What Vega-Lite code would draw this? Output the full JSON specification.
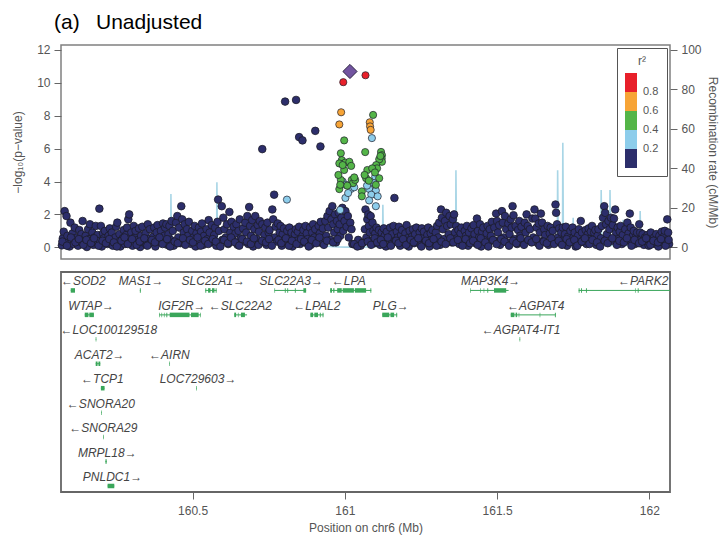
{
  "$schema": "https://vega.github.io/schema/vega-lite/v6.json",
  "padding": {"left": 10, "top": 12, "right": 4, "bottom": 6},
  "title": {"text": "(a)\u2002 Unadjusted", "anchor": "start", "frame": "group", "fontSize": 21, "fontWeight": "normal", "font": "Liberation Sans", "color": "#000000", "offset": 10, "dx": -7},
  "config": {
    "font": "Liberation Sans",
    "view": {"stroke": "#808080", "strokeWidth": 1.5},
    "axis": {"labelFont": "Liberation Sans", "labelFontSize": 12, "labelColor": "#555555", "tickColor": "#666666", "tickSize": 7, "domain": false, "grid": false, "labelOverlap": false, "titleFont": "Liberation Sans", "titleFontSize": 12, "titleColor": "#555555", "titleFontWeight": "normal", "labelPadding": 4}
  },
  "datasets": {
    "snps": [
      {"pos":160.071,"logp":0.12},{"pos":160.074,"logp":0.55},{"pos":160.077,"logp":0.95},{"pos":160.080,"logp":2.2},{"pos":160.083,"logp":0.3},{"pos":160.086,"logp":1.9},{"pos":160.089,"logp":0.7},
      {"pos":160.096,"logp":0.05},{"pos":160.099,"logp":1.5},{"pos":160.102,"logp":0.45},{"pos":160.106,"logp":0.85},{"pos":160.110,"logp":0.2},{"pos":160.113,"logp":1.2},
      {"pos":160.121,"logp":0.6},{"pos":160.124,"logp":0.1},{"pos":160.128,"logp":1.05},{"pos":160.131,"logp":0.35},{"pos":160.135,"logp":0.8},{"pos":160.139,"logp":1.6},
      {"pos":160.146,"logp":0.25},{"pos":160.149,"logp":0.7},{"pos":160.153,"logp":0.02},{"pos":160.157,"logp":1.1},{"pos":160.160,"logp":0.5},{"pos":160.163,"logp":1.4},
      {"pos":160.171,"logp":0.9},{"pos":160.174,"logp":0.15},{"pos":160.178,"logp":0.6},{"pos":160.182,"logp":1.3},{"pos":160.185,"logp":0.3},{"pos":160.188,"logp":0.75},
      {"pos":160.194,"logp":2.35},{"pos":160.196,"logp":0.4},{"pos":160.199,"logp":1.3},{"pos":160.202,"logp":0.05},{"pos":160.206,"logp":0.85},{"pos":160.209,"logp":0.55},{"pos":160.212,"logp":1.0},
      {"pos":160.221,"logp":0.2},{"pos":160.224,"logp":0.7},{"pos":160.228,"logp":1.15},{"pos":160.231,"logp":0.4},{"pos":160.235,"logp":0.9},{"pos":160.238,"logp":0.1},
      {"pos":160.246,"logp":0.6},{"pos":160.249,"logp":1.25},{"pos":160.253,"logp":1.5},{"pos":160.256,"logp":0.3},{"pos":160.260,"logp":0.8},{"pos":160.263,"logp":0.05},
      {"pos":160.271,"logp":0.55},{"pos":160.274,"logp":1.05},{"pos":160.278,"logp":0.2},{"pos":160.282,"logp":0.75},{"pos":160.285,"logp":1.2},{"pos":160.289,"logp":1.7},{"pos":160.292,"logp":2.0},
      {"pos":160.296,"logp":0.35},{"pos":160.299,"logp":0.9},{"pos":160.303,"logp":0.1},{"pos":160.307,"logp":1.3},{"pos":160.310,"logp":0.6},{"pos":160.313,"logp":1.0},
      {"pos":160.321,"logp":0.45},{"pos":160.324,"logp":1.15},{"pos":160.328,"logp":0.02},{"pos":160.331,"logp":0.7},{"pos":160.335,"logp":1.25},{"pos":160.338,"logp":0.3},
      {"pos":160.346,"logp":0.85},{"pos":160.349,"logp":0.15},{"pos":160.353,"logp":1.4},{"pos":160.356,"logp":0.5},{"pos":160.360,"logp":1.1},{"pos":160.363,"logp":0.25},
      {"pos":160.371,"logp":0.65},{"pos":160.374,"logp":1.2},{"pos":160.378,"logp":0.05},{"pos":160.382,"logp":0.9},{"pos":160.385,"logp":1.35},{"pos":160.388,"logp":0.4},
      {"pos":160.396,"logp":1.0},{"pos":160.399,"logp":0.3},{"pos":160.403,"logp":1.45},{"pos":160.407,"logp":0.7},{"pos":160.410,"logp":1.2},{"pos":160.414,"logp":1.4},{"pos":160.417,"logp":0.15},
      {"pos":160.421,"logp":0.8},{"pos":160.424,"logp":1.3},{"pos":160.428,"logp":0.45},{"pos":160.431,"logp":1.6},{"pos":160.435,"logp":1.0},{"pos":160.438,"logp":0.1},
      {"pos":160.446,"logp":1.5},{"pos":160.450,"logp":1.9},{"pos":160.453,"logp":0.6},{"pos":160.456,"logp":1.2},{"pos":160.460,"logp":0.25},{"pos":160.463,"logp":2.5},{"pos":160.466,"logp":1.7},
      {"pos":160.471,"logp":0.9},{"pos":160.474,"logp":1.4},{"pos":160.478,"logp":0.35},{"pos":160.482,"logp":1.1},{"pos":160.485,"logp":0.7},{"pos":160.488,"logp":1.55},
      {"pos":160.496,"logp":0.2},{"pos":160.499,"logp":1.0},{"pos":160.503,"logp":0.6},{"pos":160.507,"logp":1.3},{"pos":160.510,"logp":0.05},{"pos":160.513,"logp":0.85},
      {"pos":160.521,"logp":1.2},{"pos":160.524,"logp":0.4},{"pos":160.528,"logp":0.95},{"pos":160.531,"logp":1.45},{"pos":160.535,"logp":0.15},{"pos":160.538,"logp":0.7},
      {"pos":160.546,"logp":1.1},{"pos":160.549,"logp":0.5},{"pos":160.553,"logp":1.65},{"pos":160.556,"logp":0.9},{"pos":160.560,"logp":0.3},{"pos":160.563,"logp":1.35},
      {"pos":160.571,"logp":0.75},{"pos":160.574,"logp":1.2},{"pos":160.578,"logp":0.1},{"pos":160.582,"logp":1.55},{"pos":160.584,"logp":2.9},{"pos":160.587,"logp":1.0},
      {"pos":160.596,"logp":2.5},{"pos":160.598,"logp":0.45},{"pos":160.601,"logp":1.8},{"pos":160.605,"logp":1.1},{"pos":160.609,"logp":0.6},{"pos":160.613,"logp":1.4},
      {"pos":160.617,"logp":0.2},{"pos":160.621,"logp":2.15},{"pos":160.624,"logp":0.9},{"pos":160.628,"logp":1.55},{"pos":160.631,"logp":0.5},{"pos":160.635,"logp":1.25},
      {"pos":160.641,"logp":0.85},{"pos":160.644,"logp":1.4},{"pos":160.648,"logp":0.15},{"pos":160.651,"logp":1.0},{"pos":160.655,"logp":1.7},{"pos":160.658,"logp":0.55},
      {"pos":160.666,"logp":1.15},{"pos":160.669,"logp":0.35},{"pos":160.673,"logp":1.5},{"pos":160.676,"logp":0.9},{"pos":160.680,"logp":1.9},{"pos":160.683,"logp":0.2},
      {"pos":160.686,"logp":2.45},{"pos":160.689,"logp":1.3},{"pos":160.692,"logp":0.7},{"pos":160.696,"logp":1.65},{"pos":160.699,"logp":0.05},{"pos":160.703,"logp":1.1},{"pos":160.706,"logp":1.9},
      {"pos":160.711,"logp":0.5},{"pos":160.714,"logp":1.35},{"pos":160.718,"logp":0.95},{"pos":160.721,"logp":1.6},{"pos":160.725,"logp":0.3},{"pos":160.729,"logp":1.4},{"pos":160.729,"logp":5.97},
      {"pos":160.736,"logp":0.75},{"pos":160.739,"logp":1.2},{"pos":160.743,"logp":0.15},{"pos":160.746,"logp":1.5},{"pos":160.750,"logp":0.9},{"pos":160.753,"logp":1.05},
      {"pos":160.762,"logp":2.3},{"pos":160.765,"logp":1.7},{"pos":160.768,"logp":3.2},{"pos":160.770,"logp":0.6},{"pos":160.773,"logp":1.25},{"pos":160.777,"logp":0.35},{"pos":160.780,"logp":1.45},
      {"pos":160.786,"logp":0.9},{"pos":160.789,"logp":1.3},{"pos":160.793,"logp":0.1},{"pos":160.796,"logp":0.8},{"pos":160.800,"logp":1.15},{"pos":160.803,"logp":0.45},
      {"pos":160.804,"logp":8.86},{"pos":160.840,"logp":8.96},{"pos":160.850,"logp":6.7},{"pos":160.861,"logp":6.5},{"pos":160.903,"logp":7.08},{"pos":160.920,"logp":6.13},
      {"pos":160.811,"logp":1.0},{"pos":160.814,"logp":0.3},{"pos":160.818,"logp":1.2},{"pos":160.821,"logp":0.65},{"pos":160.825,"logp":0.9},{"pos":160.828,"logp":0.05},
      {"pos":160.836,"logp":0.8},{"pos":160.839,"logp":1.1},{"pos":160.843,"logp":0.4},{"pos":160.846,"logp":0.95},{"pos":160.850,"logp":1.25},{"pos":160.853,"logp":0.2},
      {"pos":160.861,"logp":0.7},{"pos":160.864,"logp":1.05},{"pos":160.868,"logp":0.3},{"pos":160.871,"logp":1.3},{"pos":160.875,"logp":0.85},{"pos":160.878,"logp":0.5},
      {"pos":160.886,"logp":1.2},{"pos":160.889,"logp":0.15},{"pos":160.893,"logp":0.9},{"pos":160.896,"logp":1.4},{"pos":160.900,"logp":0.6},{"pos":160.903,"logp":1.1},
      {"pos":160.911,"logp":0.4},{"pos":160.914,"logp":1.3},{"pos":160.918,"logp":0.85},{"pos":160.921,"logp":1.55},{"pos":160.925,"logp":0.25},{"pos":160.928,"logp":1.15},
      {"pos":160.936,"logp":1.6},{"pos":160.939,"logp":0.7},{"pos":160.943,"logp":1.9},{"pos":160.946,"logp":1.2},{"pos":160.950,"logp":2.2},{"pos":160.953,"logp":0.45},{"pos":160.956,"logp":1.7},
      {"pos":160.959,"logp":2.5},{"pos":160.962,"logp":1.4},{"pos":160.965,"logp":0.9},{"pos":160.968,"logp":2.0},{"pos":160.971,"logp":0.3},{"pos":160.974,"logp":1.6},{"pos":160.977,"logp":1.1},
      {"pos":160.980,"logp":2.1},{"pos":160.983,"logp":1.4},{"pos":160.985,"logp":0.7},{"pos":160.989,"logp":1.8},{"pos":160.992,"logp":2.4},{"pos":160.995,"logp":1.0},{"pos":160.999,"logp":1.6},
      {"pos":161.002,"logp":2.2},{"pos":161.006,"logp":1.25},{"pos":161.010,"logp":1.9},{"pos":161.013,"logp":0.6},{"pos":161.018,"logp":1.5},{"pos":161.022,"logp":1.1},{"pos":161.025,"logp":0.2},
      {"pos":161.035,"logp":0.15},{"pos":161.044,"logp":0.45},{"pos":161.052,"logp":0.1},{"pos":161.060,"logp":0.3},
      {"pos":161.066,"logp":1.1},{"pos":161.068,"logp":2.3},{"pos":161.071,"logp":0.6},{"pos":161.074,"logp":1.7},{"pos":161.077,"logp":2.0},{"pos":161.079,"logp":1.3},{"pos":161.082,"logp":0.9},
      {"pos":161.085,"logp":1.9},{"pos":161.088,"logp":0.4},{"pos":161.091,"logp":1.5},{"pos":161.094,"logp":1.0},
      {"pos":161.097,"logp":0.25},{"pos":161.100,"logp":0.85},{"pos":161.104,"logp":1.2},{"pos":161.108,"logp":0.5},{"pos":161.112,"logp":1.05},{"pos":161.116,"logp":0.15},
      {"pos":161.121,"logp":0.9},{"pos":161.124,"logp":0.4},{"pos":161.128,"logp":1.15},{"pos":161.131,"logp":0.7},{"pos":161.135,"logp":0.05},{"pos":161.138,"logp":0.95},
      {"pos":161.146,"logp":0.5},{"pos":161.149,"logp":1.2},{"pos":161.153,"logp":0.2},{"pos":161.156,"logp":0.8},{"pos":161.160,"logp":1.3},{"pos":161.163,"logp":3.0},{"pos":161.166,"logp":0.35},
      {"pos":161.171,"logp":0.95},{"pos":161.174,"logp":0.6},{"pos":161.178,"logp":1.25},{"pos":161.182,"logp":0.1},{"pos":161.185,"logp":0.75},{"pos":161.188,"logp":1.05},
      {"pos":161.196,"logp":0.3},{"pos":161.199,"logp":0.85},{"pos":161.203,"logp":1.35},{"pos":161.206,"logp":0.55},{"pos":161.210,"logp":0.05},{"pos":161.213,"logp":1.0},
      {"pos":161.221,"logp":0.65},{"pos":161.224,"logp":1.1},{"pos":161.228,"logp":0.25},{"pos":161.231,"logp":0.8},{"pos":161.235,"logp":1.2},{"pos":161.238,"logp":0.4},
      {"pos":161.246,"logp":0.9},{"pos":161.249,"logp":0.15},{"pos":161.253,"logp":1.15},{"pos":161.256,"logp":0.6},{"pos":161.260,"logp":0.95},{"pos":161.263,"logp":0.3},
      {"pos":161.271,"logp":0.75},{"pos":161.274,"logp":1.2},{"pos":161.278,"logp":0.05},{"pos":161.282,"logp":0.85},{"pos":161.285,"logp":0.45},{"pos":161.288,"logp":1.05},
      {"pos":161.296,"logp":0.35},{"pos":161.299,"logp":0.9},{"pos":161.303,"logp":1.3},{"pos":161.307,"logp":0.6},{"pos":161.310,"logp":1.5},{"pos":161.313,"logp":0.15},
      {"pos":161.316,"logp":2.3},{"pos":161.319,"logp":1.8},{"pos":161.322,"logp":1.1},{"pos":161.326,"logp":0.5},{"pos":161.329,"logp":1.6},{"pos":161.333,"logp":2.1},{"pos":161.336,"logp":1.3},
      {"pos":161.341,"logp":0.8},{"pos":161.344,"logp":1.9},{"pos":161.348,"logp":1.4},{"pos":161.351,"logp":0.3},{"pos":161.355,"logp":1.7},{"pos":161.359,"logp":2.0},{"pos":161.362,"logp":0.9},
      {"pos":161.366,"logp":1.3},{"pos":161.369,"logp":0.55},{"pos":161.373,"logp":1.05},{"pos":161.376,"logp":0.2},{"pos":161.380,"logp":0.85},{"pos":161.383,"logp":1.2},
      {"pos":161.391,"logp":0.4},{"pos":161.394,"logp":1.0},{"pos":161.398,"logp":0.7},{"pos":161.401,"logp":1.3},{"pos":161.405,"logp":0.1},{"pos":161.408,"logp":0.9},
      {"pos":161.416,"logp":1.15},{"pos":161.419,"logp":0.5},{"pos":161.423,"logp":1.35},{"pos":161.426,"logp":0.8},{"pos":161.430,"logp":0.25},{"pos":161.434,"logp":1.75},{"pos":161.437,"logp":1.0},
      {"pos":161.441,"logp":0.6},{"pos":161.444,"logp":1.4},{"pos":161.448,"logp":0.05},{"pos":161.451,"logp":0.95},{"pos":161.455,"logp":1.2},{"pos":161.458,"logp":0.45},
      {"pos":161.466,"logp":0.85},{"pos":161.469,"logp":1.3},{"pos":161.473,"logp":0.3},{"pos":161.476,"logp":1.1},{"pos":161.480,"logp":0.7},{"pos":161.483,"logp":1.55},
      {"pos":161.491,"logp":1.2},{"pos":161.494,"logp":0.4},{"pos":161.497,"logp":2.05},{"pos":161.500,"logp":1.6},{"pos":161.503,"logp":0.9},{"pos":161.507,"logp":1.35},{"pos":161.510,"logp":0.15},
      {"pos":161.516,"logp":2.2},{"pos":161.519,"logp":1.5},{"pos":161.522,"logp":0.6},{"pos":161.526,"logp":1.9},{"pos":161.530,"logp":1.1},{"pos":161.533,"logp":0.3},{"pos":161.537,"logp":1.45},
      {"pos":161.541,"logp":0.8},{"pos":161.545,"logp":1.7},{"pos":161.548,"logp":1.2},{"pos":161.551,"logp":2.5},{"pos":161.554,"logp":1.95},{"pos":161.558,"logp":0.5},{"pos":161.561,"logp":1.3},
      {"pos":161.566,"logp":0.2},{"pos":161.569,"logp":1.05},{"pos":161.573,"logp":1.6},{"pos":161.576,"logp":0.7},{"pos":161.580,"logp":1.25},{"pos":161.583,"logp":0.35},
      {"pos":161.591,"logp":1.5},{"pos":161.594,"logp":0.9},{"pos":161.597,"logp":2.0},{"pos":161.601,"logp":1.3},{"pos":161.605,"logp":0.45},{"pos":161.608,"logp":1.1},
      {"pos":161.616,"logp":1.75},{"pos":161.619,"logp":0.6},{"pos":161.623,"logp":2.3},{"pos":161.626,"logp":1.75},{"pos":161.630,"logp":1.2},{"pos":161.634,"logp":0.25},{"pos":161.637,"logp":1.45},
      {"pos":161.641,"logp":0.9},{"pos":161.644,"logp":2.05},{"pos":161.648,"logp":1.5},{"pos":161.651,"logp":0.4},{"pos":161.655,"logp":1.1},{"pos":161.658,"logp":0.75},
      {"pos":161.666,"logp":1.3},{"pos":161.669,"logp":0.15},{"pos":161.673,"logp":0.85},{"pos":161.676,"logp":1.2},{"pos":161.680,"logp":0.5},{"pos":161.683,"logp":1.0},
      {"pos":161.692,"logp":2.6},{"pos":161.694,"logp":2.1},{"pos":161.697,"logp":1.4},{"pos":161.700,"logp":0.6},{"pos":161.704,"logp":1.15},{"pos":161.707,"logp":0.3},{"pos":161.711,"logp":0.9},
      {"pos":161.716,"logp":1.2},{"pos":161.719,"logp":0.45},{"pos":161.723,"logp":0.8},{"pos":161.726,"logp":1.25},{"pos":161.730,"logp":0.1},{"pos":161.733,"logp":0.65},
      {"pos":161.741,"logp":1.0},{"pos":161.744,"logp":0.35},{"pos":161.748,"logp":1.2},{"pos":161.751,"logp":0.6},{"pos":161.755,"logp":0.9},{"pos":161.758,"logp":0.05},
      {"pos":161.766,"logp":0.7},{"pos":161.769,"logp":1.1},{"pos":161.773,"logp":0.3},{"pos":161.775,"logp":1.6},{"pos":161.779,"logp":0.9},{"pos":161.783,"logp":0.45},
      {"pos":161.791,"logp":1.05},{"pos":161.794,"logp":0.2},{"pos":161.798,"logp":0.8},{"pos":161.801,"logp":1.15},{"pos":161.805,"logp":0.5},{"pos":161.808,"logp":0.95},
      {"pos":161.812,"logp":1.3},{"pos":161.816,"logp":0.35},{"pos":161.819,"logp":0.9},{"pos":161.823,"logp":1.05},{"pos":161.826,"logp":0.15},{"pos":161.830,"logp":0.7},{"pos":161.833,"logp":1.1},
      {"pos":161.841,"logp":0.55},{"pos":161.844,"logp":1.3},{"pos":161.848,"logp":1.8},{"pos":161.852,"logp":2.5},{"pos":161.855,"logp":2.1},{"pos":161.858,"logp":1.4},{"pos":161.861,"logp":0.8},
      {"pos":161.866,"logp":1.6},{"pos":161.869,"logp":1.1},{"pos":161.874,"logp":1.8},{"pos":161.877,"logp":0.4},{"pos":161.880,"logp":1.35},{"pos":161.884,"logp":1.75},{"pos":161.888,"logp":2.3},{"pos":161.891,"logp":0.9},
      {"pos":161.896,"logp":1.2},{"pos":161.899,"logp":0.5},{"pos":161.903,"logp":0.95},{"pos":161.906,"logp":1.3},{"pos":161.910,"logp":0.2},{"pos":161.913,"logp":0.75},
      {"pos":161.921,"logp":1.1},{"pos":161.924,"logp":0.4},{"pos":161.928,"logp":1.5},{"pos":161.932,"logp":0.85},{"pos":161.936,"logp":2.05},{"pos":161.939,"logp":1.2},{"pos":161.942,"logp":0.3},
      {"pos":161.946,"logp":0.7},{"pos":161.949,"logp":1.0},{"pos":161.953,"logp":0.2},{"pos":161.956,"logp":0.6},{"pos":161.960,"logp":0.9},{"pos":161.963,"logp":0.35},
      {"pos":161.967,"logp":1.4},{"pos":161.970,"logp":0.9},{"pos":161.974,"logp":0.5},{"pos":161.978,"logp":0.8},{"pos":161.982,"logp":0.15},{"pos":161.986,"logp":0.6},
      {"pos":161.991,"logp":0.35},{"pos":161.994,"logp":0.75},{"pos":161.998,"logp":0.1},{"pos":162.001,"logp":0.55},{"pos":162.005,"logp":0.9},{"pos":162.008,"logp":0.3},
      {"pos":162.016,"logp":0.6},{"pos":162.019,"logp":0.2},{"pos":162.023,"logp":0.8},{"pos":162.026,"logp":0.45},{"pos":162.030,"logp":0.05},{"pos":162.033,"logp":0.7},
      {"pos":162.041,"logp":0.95},{"pos":162.044,"logp":0.3},{"pos":162.048,"logp":0.65},{"pos":162.051,"logp":1.0},{"pos":162.055,"logp":0.4},{"pos":162.059,"logp":1.7},{"pos":162.062,"logp":0.9},{"pos":162.065,"logp":0.2},
      {"pos":160.0725,"logp":0.35},{"pos":160.0875,"logp":0.1},{"pos":160.1005,"logp":0.6},{"pos":160.1155,"logp":0.3},{"pos":160.1265,"logp":0.5},{"pos":160.1415,"logp":0.15},
      {"pos":160.1515,"logp":0.45},{"pos":160.1665,"logp":0.25},{"pos":160.1765,"logp":0.55},{"pos":160.1915,"logp":0.1},{"pos":160.2045,"logp":0.4},{"pos":160.2155,"logp":0.25},
      {"pos":160.2265,"logp":0.5},{"pos":160.2415,"logp":0.3},{"pos":160.2515,"logp":0.05},{"pos":160.2665,"logp":0.4},{"pos":160.2765,"logp":0.6},{"pos":160.2875,"logp":0.2},
      {"pos":160.3015,"logp":0.5},{"pos":160.3165,"logp":0.15},{"pos":160.3265,"logp":0.35},{"pos":160.3415,"logp":0.55},{"pos":160.3515,"logp":0.1},{"pos":160.3665,"logp":0.45},
      {"pos":160.3765,"logp":0.3},{"pos":160.3915,"logp":0.6},{"pos":160.4015,"logp":0.2},{"pos":160.4165,"logp":0.5},{"pos":160.4265,"logp":0.05},{"pos":160.4415,"logp":0.35},
      {"pos":160.4515,"logp":0.25},{"pos":160.4685,"logp":0.55},{"pos":160.4765,"logp":0.15},{"pos":160.4915,"logp":0.45},{"pos":160.5015,"logp":0.3},{"pos":160.5165,"logp":0.6},
      {"pos":160.5265,"logp":0.1},{"pos":160.5415,"logp":0.4},{"pos":160.5515,"logp":0.2},{"pos":160.5665,"logp":0.5},{"pos":160.5765,"logp":0.35},{"pos":160.5915,"logp":0.05},
      {"pos":160.6035,"logp":0.45},{"pos":160.6165,"logp":0.25},{"pos":160.6265,"logp":0.6},{"pos":160.6395,"logp":0.3},{"pos":160.6535,"logp":0.1},{"pos":160.6635,"logp":0.5},
      {"pos":160.6785,"logp":0.35},{"pos":160.6915,"logp":0.2},{"pos":160.7015,"logp":0.55},{"pos":160.7165,"logp":0.15},{"pos":160.7285,"logp":0.4},{"pos":160.7415,"logp":0.3},
      {"pos":160.7515,"logp":0.5},{"pos":160.7605,"logp":0.1},{"pos":160.7825,"logp":0.45},{"pos":160.7915,"logp":0.25},{"pos":160.8065,"logp":0.55},{"pos":160.8165,"logp":0.1},
      {"pos":160.8265,"logp":0.4},{"pos":160.8415,"logp":0.2},{"pos":160.8565,"logp":0.5},{"pos":160.8665,"logp":0.35},{"pos":160.8815,"logp":0.05},{"pos":160.8915,"logp":0.45},
      {"pos":160.9065,"logp":0.25},{"pos":160.9165,"logp":0.6},{"pos":160.9315,"logp":0.15},{"pos":160.9415,"logp":0.4},{"pos":160.9615,"logp":0.3},{"pos":160.9765,"logp":0.5},
      {"pos":161.0305,"logp":0.2},{"pos":161.0415,"logp":0.05},{"pos":161.0565,"logp":0.25},{"pos":161.0755,"logp":0.35},{"pos":161.0865,"logp":0.15},{"pos":161.0985,"logp":0.55},
      {"pos":161.1065,"logp":0.3},{"pos":161.1185,"logp":0.45},{"pos":161.1265,"logp":0.2},{"pos":161.1415,"logp":0.6},{"pos":161.1515,"logp":0.1},{"pos":161.1685,"logp":0.4},
      {"pos":161.1765,"logp":0.25},{"pos":161.1915,"logp":0.5},{"pos":161.2015,"logp":0.15},{"pos":161.2165,"logp":0.45},{"pos":161.2265,"logp":0.3},{"pos":161.2415,"logp":0.55},
      {"pos":161.2515,"logp":0.05},{"pos":161.2665,"logp":0.4},{"pos":161.2765,"logp":0.25},{"pos":161.2915,"logp":0.5},{"pos":161.3015,"logp":0.1},{"pos":161.3175,"logp":0.35},
      {"pos":161.3315,"logp":0.2},{"pos":161.3465,"logp":0.55},{"pos":161.3565,"logp":0.3},{"pos":161.3715,"logp":0.45},{"pos":161.3865,"logp":0.1},{"pos":161.3965,"logp":0.5},
      {"pos":161.4115,"logp":0.25},{"pos":161.4215,"logp":0.4},{"pos":161.4365,"logp":0.15},{"pos":161.4465,"logp":0.55},{"pos":161.4615,"logp":0.3},{"pos":161.4715,"logp":0.05},
      {"pos":161.4865,"logp":0.45},{"pos":161.4985,"logp":0.2},{"pos":161.5135,"logp":0.5},{"pos":161.5245,"logp":0.35},{"pos":161.5395,"logp":0.1},{"pos":161.5525,"logp":0.4},
      {"pos":161.5635,"logp":0.25},{"pos":161.5775,"logp":0.55},{"pos":161.5885,"logp":0.15},{"pos":161.6025,"logp":0.45},{"pos":161.6135,"logp":0.3},{"pos":161.6285,"logp":0.5},
      {"pos":161.6395,"logp":0.1},{"pos":161.6535,"logp":0.35},{"pos":161.6635,"logp":0.25},{"pos":161.6785,"logp":0.55},{"pos":161.6875,"logp":0.2},{"pos":161.7025,"logp":0.4},
      {"pos":161.7135,"logp":0.15},{"pos":161.7285,"logp":0.5},{"pos":161.7385,"logp":0.3},{"pos":161.7535,"logp":0.45},{"pos":161.7635,"logp":0.1},{"pos":161.7785,"logp":0.35},
      {"pos":161.7885,"logp":0.55},{"pos":161.8035,"logp":0.2},{"pos":161.8135,"logp":0.45},{"pos":161.8285,"logp":0.3},{"pos":161.8385,"logp":0.05},{"pos":161.8535,"logp":0.4},
      {"pos":161.8635,"logp":0.25},{"pos":161.8785,"logp":0.55},{"pos":161.8935,"logp":0.15},{"pos":161.9015,"logp":0.4},{"pos":161.9165,"logp":0.3},{"pos":161.9265,"logp":0.55},
      {"pos":161.9415,"logp":0.1},{"pos":161.9515,"logp":0.45},{"pos":161.9665,"logp":0.25},{"pos":161.9765,"logp":0.35},{"pos":161.9895,"logp":0.55},{"pos":162.0035,"logp":0.15},
      {"pos":162.0135,"logp":0.4},{"pos":162.0285,"logp":0.3},{"pos":162.0385,"logp":0.5},{"pos":162.0535,"logp":0.1},{"pos":162.0635,"logp":0.45}
    ],
    "ld_snps": [
      {"pos":160.810,"logp":2.9,"r2":0.3},{"pos":161.089,"logp":6.64,"r2":0.3},{"pos":160.993,"logp":4.0,"r2":0.3},{"pos":161.004,"logp":3.8,"r2":0.3},
      {"pos":161.002,"logp":3.0,"r2":0.3},{"pos":161.020,"logp":3.55,"r2":0.3},{"pos":161.031,"logp":3.65,"r2":0.3},{"pos":161.080,"logp":3.55,"r2":0.3},
      {"pos":161.073,"logp":3.75,"r2":0.3},{"pos":161.100,"logp":4.3,"r2":0.3},{"pos":161.102,"logp":3.45,"r2":0.3},{"pos":161.087,"logp":3.2,"r2":0.3},
      {"pos":161.108,"logp":3.1,"r2":0.3},{"pos":161.102,"logp":2.5,"r2":0.3},{"pos":160.985,"logp":2.27,"r2":0.3},{"pos":161.080,"logp":2.85,"r2":0.3},
      {"pos":161.011,"logp":3.3,"r2":0.3},{"pos":161.096,"logp":3.9,"r2":0.3},
      {"pos":161.093,"logp":8.05,"r2":0.5},{"pos":160.998,"logp":6.5,"r2":0.5},{"pos":161.067,"logp":5.79,"r2":0.5},{"pos":161.119,"logp":5.8,"r2":0.5},
      {"pos":161.122,"logp":5.6,"r2":0.5},{"pos":161.121,"logp":5.4,"r2":0.5},{"pos":161.122,"logp":5.2,"r2":0.5},{"pos":161.113,"logp":5.35,"r2":0.5},
      {"pos":161.103,"logp":5.0,"r2":0.5},{"pos":161.106,"logp":4.8,"r2":0.5},{"pos":160.987,"logp":5.72,"r2":0.5},{"pos":160.990,"logp":5.3,"r2":0.5},
      {"pos":160.982,"logp":5.1,"r2":0.5},{"pos":161.002,"logp":5.15,"r2":0.5},{"pos":161.015,"logp":5.2,"r2":0.5},{"pos":161.021,"logp":4.95,"r2":0.5},
      {"pos":160.998,"logp":4.7,"r2":0.5},{"pos":160.987,"logp":4.1,"r2":0.5},{"pos":160.982,"logp":3.54,"r2":0.5},{"pos":161.023,"logp":4.1,"r2":0.5},
      {"pos":161.027,"logp":3.9,"r2":0.5},{"pos":161.034,"logp":4.1,"r2":0.5},{"pos":161.056,"logp":3.4,"r2":0.5},{"pos":161.056,"logp":3.1,"r2":0.5},
      {"pos":161.074,"logp":4.7,"r2":0.5},{"pos":161.070,"logp":4.2,"r2":0.5},{"pos":161.079,"logp":4.05,"r2":0.5},{"pos":161.102,"logp":3.8,"r2":0.5},
      {"pos":161.113,"logp":4.2,"r2":0.5},{"pos":161.090,"logp":4.8,"r2":0.5},{"pos":160.979,"logp":4.4,"r2":0.5},{"pos":161.008,"logp":3.75,"r2":0.5},
      {"pos":160.993,"logp":5.0,"r2":0.5},{"pos":161.117,"logp":5.55,"r2":0.5},{"pos":161.099,"logp":4.55,"r2":0.5},{"pos":160.985,"logp":3.8,"r2":0.5},
      {"pos":161.031,"logp":4.25,"r2":0.5},{"pos":161.065,"logp":4.4,"r2":0.5},
      {"pos":160.988,"logp":8.21,"r2":0.7},{"pos":160.982,"logp":7.47,"r2":0.7},{"pos":161.082,"logp":7.6,"r2":0.7},{"pos":161.083,"logp":7.35,"r2":0.7},{"pos":161.085,"logp":7.14,"r2":0.7},
      {"pos":160.995,"logp":10.04,"r2":0.9},{"pos":161.068,"logp":10.46,"r2":0.9}
    ],
    "lead_snp": [{"pos":161.017,"logp":10.69}],
    "recomb": [
      {"pos":160.068,"rate":2},{"pos":160.10,"rate":1.5},{"pos":160.15,"rate":3},{"pos":160.2,"rate":1},{"pos":160.25,"rate":2.5},{"pos":160.3,"rate":1.2},
      {"pos":160.35,"rate":2},{"pos":160.40,"rate":1},{"pos":160.428,"rate":1.5},{"pos":160.429,"rate":27},{"pos":160.431,"rate":1.5},{"pos":160.48,"rate":2},
      {"pos":160.52,"rate":1},{"pos":160.579,"rate":2},{"pos":160.580,"rate":33},{"pos":160.582,"rate":2},{"pos":160.62,"rate":1.5},{"pos":160.66,"rate":3},
      {"pos":160.70,"rate":1},{"pos":160.75,"rate":2},{"pos":160.80,"rate":1.2},{"pos":160.85,"rate":0.8},{"pos":160.90,"rate":1.5},{"pos":160.94,"rate":0.6},
      {"pos":160.98,"rate":0.2},{"pos":161.0,"rate":0.1},{"pos":161.05,"rate":0.1},{"pos":161.1,"rate":0.3},{"pos":161.124,"rate":0.5},{"pos":161.125,"rate":21.5},
      {"pos":161.127,"rate":0.5},{"pos":161.16,"rate":1.5},{"pos":161.2,"rate":2},{"pos":161.25,"rate":1},{"pos":161.3,"rate":2.5},{"pos":161.364,"rate":1},
      {"pos":161.365,"rate":39},{"pos":161.367,"rate":1},{"pos":161.4,"rate":2},{"pos":161.45,"rate":1},{"pos":161.5,"rate":2.5},{"pos":161.55,"rate":1},
      {"pos":161.6,"rate":2},{"pos":161.65,"rate":1.5},{"pos":161.698,"rate":2},{"pos":161.699,"rate":39},{"pos":161.701,"rate":2},{"pos":161.715,"rate":1.5},
      {"pos":161.716,"rate":53},{"pos":161.718,"rate":1.5},{"pos":161.749,"rate":1},{"pos":161.750,"rate":15},{"pos":161.752,"rate":1},{"pos":161.8,"rate":2},
      {"pos":161.841,"rate":1},{"pos":161.842,"rate":29},{"pos":161.844,"rate":1},{"pos":161.870,"rate":1},{"pos":161.871,"rate":29},{"pos":161.873,"rate":1},
      {"pos":161.913,"rate":1},{"pos":161.914,"rate":14},{"pos":161.916,"rate":1},{"pos":161.969,"rate":1},{"pos":161.970,"rate":18.4},{"pos":161.972,"rate":1},
      {"pos":162.02,"rate":2},{"pos":162.068,"rate":1.5}
    ],
    "genes": [
      {"gene":"SOD2","start":160.100,"end":160.114,"row":1,"label":"\u2190SOD2","labelpos":160.141},
      {"gene":"MAS1","start":160.327,"end":160.329,"row":1,"label":"MAS1\u2192","labelpos":160.331},
      {"gene":"SLC22A1","start":160.542,"end":160.579,"row":1,"label":"SLC22A1\u2192","labelpos":160.568},
      {"gene":"SLC22A3","start":160.769,"end":160.873,"row":1,"label":"SLC22A3\u2192","labelpos":160.824},
      {"gene":"LPA","start":160.952,"end":161.087,"row":1,"label":"\u2190LPA","labelpos":161.013},
      {"gene":"MAP3K4","start":161.412,"end":161.538,"row":1,"label":"MAP3K4\u2192","labelpos":161.479},
      {"gene":"PARK2","start":161.768,"end":163.148,"row":1,"label":"\u2190PARK2","labelpos":161.980},
      {"gene":"WTAP","start":160.146,"end":160.176,"row":2,"label":"WTAP\u2192","labelpos":160.167},
      {"gene":"IGF2R","start":160.390,"end":160.527,"row":2,"label":"IGF2R\u2192","labelpos":160.465},
      {"gene":"SLC22A2","start":160.637,"end":160.679,"row":2,"label":"\u2190SLC22A2","labelpos":160.657},
      {"gene":"LPAL2","start":160.887,"end":160.930,"row":2,"label":"\u2190LPAL2","labelpos":160.908},
      {"gene":"PLG","start":161.123,"end":161.172,"row":2,"label":"PLG\u2192","labelpos":161.151},
      {"gene":"AGPAT4","start":161.545,"end":161.693,"row":2,"label":"\u2190AGPAT4","labelpos":161.627},
      {"gene":"LOC100129518","start":160.182,"end":160.184,"row":3,"label":"\u2190LOC100129518","labelpos":160.225},
      {"gene":"AGPAT4-IT1","start":161.574,"end":161.576,"row":3,"label":"\u2190AGPAT4-IT1","labelpos":161.579},
      {"gene":"ACAT2","start":160.182,"end":160.197,"row":4,"label":"ACAT2\u2192","labelpos":160.195},
      {"gene":"AIRN","start":160.424,"end":160.426,"row":4,"label":"\u2190AIRN","labelpos":160.424},
      {"gene":"TCP1","start":160.199,"end":160.211,"row":5,"label":"\u2190TCP1","labelpos":160.204},
      {"gene":"LOC729603","start":160.512,"end":160.514,"row":5,"label":"LOC729603\u2192","labelpos":160.518},
      {"gene":"SNORA20","start":160.200,"end":160.202,"row":6,"label":"\u2190SNORA20","labelpos":160.199},
      {"gene":"SNORA29","start":160.206,"end":160.208,"row":7,"label":"\u2190SNORA29","labelpos":160.207},
      {"gene":"MRPL18","start":160.214,"end":160.218,"row":8,"label":"MRPL18\u2192","labelpos":160.220},
      {"gene":"PNLDC1","start":160.221,"end":160.243,"row":9,"label":"PNLDC1\u2192","labelpos":160.237}
    ],
    "exons": [
      {"start":160.100,"end":160.114,"row":1},{"start":160.327,"end":160.330,"row":1},
      {"start":160.542,"end":160.545,"row":1},{"start":160.551,"end":160.559,"row":1},{"start":160.564,"end":160.572,"row":1},{"start":160.576,"end":160.579,"row":1},
      {"start":160.769,"end":160.771,"row":1},{"start":160.803,"end":160.806,"row":1},{"start":160.811,"end":160.814,"row":1},{"start":160.836,"end":160.839,"row":1},{"start":160.864,"end":160.873,"row":1},
      {"start":160.952,"end":160.958,"row":1},{"start":160.962,"end":160.966,"row":1},{"start":160.975,"end":160.990,"row":1},{"start":160.993,"end":161.030,"row":1},{"start":161.033,"end":161.070,"row":1},{"start":161.084,"end":161.087,"row":1},
      {"start":161.412,"end":161.414,"row":1},{"start":161.445,"end":161.447,"row":1},{"start":161.456,"end":161.458,"row":1},{"start":161.468,"end":161.471,"row":1},{"start":161.490,"end":161.530,"row":1},
      {"start":161.768,"end":161.771,"row":1},{"start":161.776,"end":161.779,"row":1},{"start":161.792,"end":161.795,"row":1},{"start":161.953,"end":161.955,"row":1},{"start":161.962,"end":161.965,"row":1},
      {"start":160.146,"end":160.158,"row":2},{"start":160.161,"end":160.176,"row":2},
      {"start":160.390,"end":160.392,"row":2},{"start":160.398,"end":160.400,"row":2},{"start":160.406,"end":160.408,"row":2},{"start":160.414,"end":160.417,"row":2},{"start":160.425,"end":160.490,"row":2},{"start":160.495,"end":160.520,"row":2},{"start":160.525,"end":160.527,"row":2},
      {"start":160.637,"end":160.643,"row":2},{"start":160.649,"end":160.651,"row":2},{"start":160.659,"end":160.672,"row":2},
      {"start":160.887,"end":160.896,"row":2},{"start":160.900,"end":160.912,"row":2},{"start":160.918,"end":160.921,"row":2},{"start":160.927,"end":160.930,"row":2},
      {"start":161.123,"end":161.146,"row":2},{"start":161.150,"end":161.162,"row":2},{"start":161.169,"end":161.172,"row":2},
      {"start":161.545,"end":161.557,"row":2},{"start":161.561,"end":161.566,"row":2},{"start":161.571,"end":161.573,"row":2},{"start":161.640,"end":161.642,"row":2},{"start":161.690,"end":161.693,"row":2},
      {"start":160.182,"end":160.184,"row":3},{"start":161.574,"end":161.576,"row":3},
      {"start":160.182,"end":160.188,"row":4},{"start":160.191,"end":160.197,"row":4},{"start":160.424,"end":160.426,"row":4},
      {"start":160.199,"end":160.211,"row":5},{"start":160.512,"end":160.514,"row":5},
      {"start":160.200,"end":160.202,"row":6},{"start":160.206,"end":160.208,"row":7},
      {"start":160.214,"end":160.218,"row":8},{"start":160.221,"end":160.243,"row":9}
    ]
  },
  "vconcat": [
    {
      "width": 609,
      "height": 214,
      "layer": [
        {
          "data": {"name": "recomb"},
          "mark": {"type": "line", "color": "#A9D6E6", "strokeWidth": 1.6, "clip": true},
          "encoding": {
            "x": {"field": "pos", "type": "quantitative", "scale": {"domain": [160.068, 162.068], "nice": false, "zero": false}, "axis": null},
            "y": {"field": "rate", "type": "quantitative", "scale": {"domain": [-5.92, 102.5], "nice": false, "zero": false},
                  "axis": {"orient": "right", "values": [0, 20, 40, 60, 80, 100], "title": "Recombination rate (cM/Mb)", "titlePadding": 4}}
          }
        },
        {
          "layer": [
            {
              "data": {"name": "snps"},
              "mark": {"type": "point", "filled": true, "fill": "#2C2E6B", "stroke": "#1c1c28", "strokeWidth": 0.8, "opacity": 1, "size": 58},
              "encoding": {
                "x": {"field": "pos", "type": "quantitative", "axis": null},
                "y": {"field": "logp", "type": "quantitative", "scale": {"domain": [-0.71, 12.3], "nice": false, "zero": false},
                      "axis": {"orient": "left", "values": [0, 2, 4, 6, 8, 10, 12], "labelOverlap": false, "title": "\u2212log\u2081\u2080(p\u2212value)", "titlePadding": 12}}
              }
            },
            {
              "data": {"name": "ld_snps"},
              "mark": {"type": "point", "filled": true, "stroke": "#1f1f2c", "strokeWidth": 0.7, "opacity": 1, "size": 52},
              "encoding": {
                "x": {"field": "pos", "type": "quantitative", "axis": null},
                "y": {"field": "logp", "type": "quantitative",
                      "axis": {"orient": "left", "values": [0, 2, 4, 6, 8, 10, 12], "labelOverlap": false, "title": "\u2212log\u2081\u2080(p\u2212value)", "titlePadding": 12}},
                "color": {"field": "r2", "type": "quantitative",
                          "scale": {"type": "threshold", "domain": [0.2, 0.4, 0.6, 0.8], "range": ["#2C2E6B", "#8DCDEB", "#54B548", "#F7A436", "#E8202A"]},
                          "legend": {"type": "gradient", "orient": "top-right", "offset": 3, "title": "r\u00b2", "titleFontSize": 12, "titleFontWeight": "normal", "titleColor": "#555555", "titleAnchor": "middle",
                                     "gradientLength": 95, "gradientThickness": 12, "gradientStrokeWidth": 0, "labelFontSize": 11, "labelColor": "#555555", "labelOffset": 6, "format": ".1f",
                                     "strokeColor": "#555555", "padding": 8, "direction": "vertical"}}
              }
            },
            {
              "data": {"name": "lead_snp"},
              "mark": {"type": "point", "shape": "diamond", "filled": true, "fill": "#7254A0", "stroke": "#2a2040", "strokeWidth": 1, "opacity": 1, "size": 200},
              "encoding": {
                "x": {"field": "pos", "type": "quantitative", "axis": null},
                "y": {"field": "logp", "type": "quantitative",
                      "axis": {"orient": "left", "values": [0, 2, 4, 6, 8, 10, 12], "labelOverlap": false, "title": "\u2212log\u2081\u2080(p\u2212value)", "titlePadding": 12}}
              }
            }
          ]
        }
      ],
      "resolve": {"scale": {"y": "independent"}}
    },
    {
      "width": 609,
      "height": 220,
      "view": {"stroke": "#666666", "strokeWidth": 1.8},
      "layer": [
        {
          "data": {"name": "genes"},
          "mark": {"type": "rule", "color": "#3AA65A", "strokeWidth": 1, "clip": true},
          "encoding": {
            "x": {"field": "start", "type": "quantitative", "scale": {"domain": [160.068, 162.068], "nice": false, "zero": false},
                  "axis": {"values": [160.5, 161, 161.5, 162], "format": "~f", "title": "Position on chr6 (Mb)", "titlePadding": 6, "labelPadding": 6}},
            "x2": {"field": "end"},
            "y": {"field": "row", "type": "quantitative", "scale": {"domain": [0.246, 9.246], "nice": false, "zero": false, "reverse": true}, "axis": null}
          }
        },
        {
          "data": {"name": "exons"},
          "mark": {"type": "rule", "color": "#3AA65A", "strokeWidth": 4.5, "strokeCap": "butt", "clip": true},
          "encoding": {
            "x": {"field": "start", "type": "quantitative"},
            "x2": {"field": "end"},
            "y": {"field": "row", "type": "quantitative"}
          }
        },
        {
          "data": {"name": "genes"},
          "mark": {"type": "text", "fontStyle": "italic", "fontSize": 12, "color": "#444444", "baseline": "middle", "align": "center", "dy": -9},
          "encoding": {
            "x": {"field": "labelpos", "type": "quantitative"},
            "y": {"field": "row", "type": "quantitative"},
            "text": {"field": "label"}
          }
        }
      ]
    }
  ],
  "spacing": 11
}
